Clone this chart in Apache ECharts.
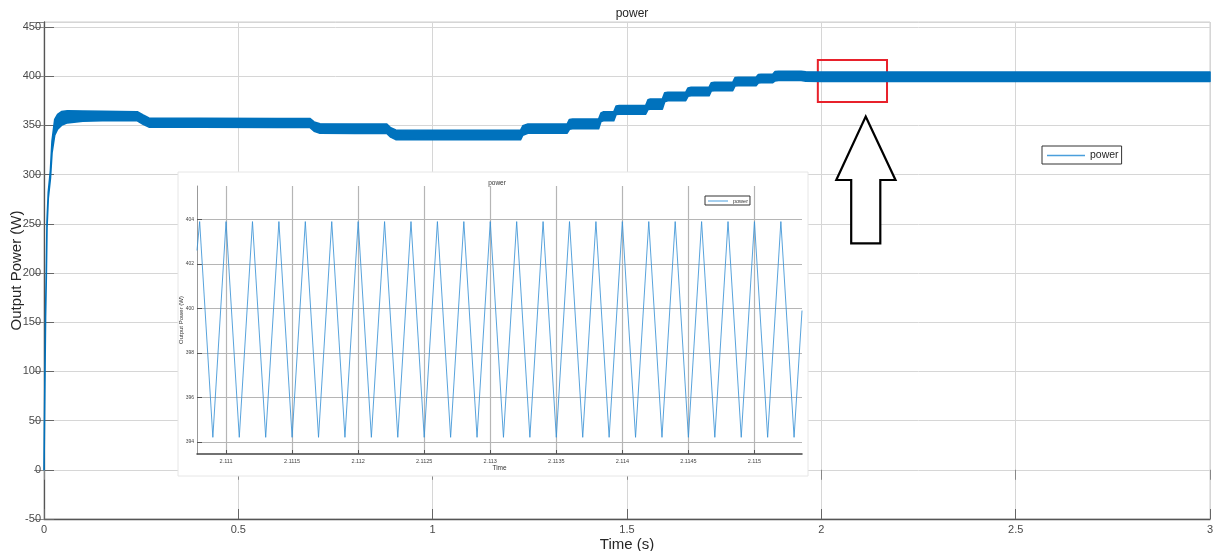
<!DOCTYPE html>
<html>
<head>
<meta charset="utf-8">
<script src="https://cdn.jsdelivr.net/npm/echarts@6/dist/echarts.min.js"></script>
<style>
html,body{margin:0;padding:0;background:#fff;}
#c{width:1217px;height:551px;}
</style>
</head>
<body>
<div id="c"></div>
<script>
// ---- main trace: time (s) and envelope of the oscillating output power (W)
const times = [0, 0.002, 0.004, 0.006, 0.0077, 0.011, 0.0165, 0.0206, 0.0276, 0.035, 0.045, 0.06, 0.1, 0.15, 0.24, 0.255, 0.27, 0.4, 0.6, 0.684, 0.695, 0.71, 0.8, 0.882, 0.892, 0.905, 1.0, 1.1, 1.226, 1.232, 1.245, 1.346, 1.352, 1.36, 1.427, 1.433, 1.44, 1.466, 1.472, 1.48, 1.548, 1.554, 1.56, 1.591, 1.597, 1.605, 1.651, 1.657, 1.665, 1.711, 1.717, 1.725, 1.772, 1.778, 1.786, 1.832, 1.838, 1.845, 1.875, 1.881, 1.89, 1.948, 1.96, 2.0, 2.5, 3.0];
const lower = [0, 78, 155, 198, 246, 276, 296, 322, 340, 346, 350, 352.5, 354.2, 354.6, 354.6, 351, 348.2, 348, 347.8, 347.8, 344, 342, 341.8, 341.8, 338, 335.5, 335.3, 335.3, 335.3, 340, 342, 342, 346, 346.5, 346.5, 354, 354.6, 354.6, 361, 361.4, 361.4, 366, 366.5, 366.5, 374, 375, 375, 379.5, 380, 380, 385, 385.2, 385.2, 390, 390.2, 390.2, 393, 393.3, 393.3, 395.2, 395.5, 395.5, 394.8, 394.6, 394.6, 394.6];
const upper = [0, 80, 160, 202, 252, 282, 304, 334, 356, 361, 364, 364.8, 364.6, 364.3, 363.8, 360.5, 357.5, 357.2, 357, 357, 353.5, 351.5, 351.3, 351.3, 347.5, 345.2, 345, 345, 345, 349.5, 351.3, 351.3, 356, 356.5, 356.5, 362.5, 363.8, 363.8, 369.5, 370, 370, 376, 376.7, 376.7, 383, 383.5, 383.5, 388, 388.6, 388.6, 393.3, 393.7, 393.7, 398.5, 398.8, 398.8, 401.5, 401.8, 401.8, 404.6, 405, 405, 404.4, 404.2, 404.2, 404.2];

// ---- zoomed inset: time (s) and instantaneous power (W)
const insetTimes = [2.11078, 2.1108, 2.1109, 2.1110, 2.1111, 2.1112, 2.1113, 2.1114, 2.1115, 2.1116, 2.1117, 2.1118, 2.1119, 2.1120, 2.1121, 2.1122, 2.1123, 2.1124, 2.1125, 2.1126, 2.1127, 2.1128, 2.1129, 2.1130, 2.1131, 2.1132, 2.1133, 2.1134, 2.1135, 2.1136, 2.1137, 2.1138, 2.1139, 2.1140, 2.1141, 2.1142, 2.1143, 2.1144, 2.1145, 2.1146, 2.1147, 2.1148, 2.1149, 2.1150, 2.1151, 2.1152, 2.1153, 2.11536];
const insetPower = [402.6, 403.9, 394.2, 403.9, 394.2, 403.9, 394.2, 403.9, 394.2, 403.9, 394.2, 403.9, 394.2, 403.9, 394.2, 403.9, 394.2, 403.9, 394.2, 403.9, 394.2, 403.9, 394.2, 403.9, 394.2, 403.9, 394.2, 403.9, 394.2, 403.9, 394.2, 403.9, 394.2, 403.9, 394.2, 403.9, 394.2, 403.9, 394.2, 403.9, 394.2, 403.9, 394.2, 403.9, 394.2, 403.9, 394.2, 399.9];

// ---- tick labels
const mainXTicks = [0, 0.5, 1, 1.5, 2, 2.5, 3];
const mainYTicks = [-50, 0, 50, 100, 150, 200, 250, 300, 350, 400, 450];
const insetXTicks = [2.111, 2.1115, 2.112, 2.1125, 2.113, 2.1135, 2.114, 2.1145, 2.115];
const insetYTicks = [394, 396, 398, 400, 402, 404];

// ---- highlighted region (red box) in data units
const boxT = [1.991, 2.169];
const boxP = [373.7, 416.4];

const FONT = 'Liberation Sans, Arial, Helvetica, sans-serif';
const chart = echarts.init(document.getElementById('c'), null, {renderer: 'canvas'});

const bandData = times.map((t, i) => [t, upper[i], lower[i]]);
const insetData = insetTimes.map((t, i) => [t, insetPower[i]]);

const fmt4 = v => String(parseFloat((+v).toFixed(4)));

function renderBand(params, api) {
  if (params.dataIndex !== 0) return null;
  const top = [], bot = [];
  for (let i = 0; i < times.length; i++) {
    top.push(api.coord([times[i], upper[i]]));
    bot.push(api.coord([times[i], lower[i]]));
  }
  const pts = top.concat(bot.reverse());
  return {
    type: 'polygon',
    shape: {points: pts},
    style: {fill: '#0072BD', stroke: '#0072BD', lineWidth: 1.6, lineJoin: 'round'}
  };
}

chart.setOption({
  animation: false,
  backgroundColor: '#fff',
  textStyle: {fontFamily: FONT},
  title: [
    {text: 'power', left: 627, top: 3, textAlign: 'center',
     textStyle: {fontSize: 12, fontWeight: 'normal', color: '#262626', fontFamily: FONT}},
    {text: 'power', left: 492, top: 175, textAlign: 'center', z: 5,
     textStyle: {fontSize: 6.5, fontWeight: 'normal', color: '#333', fontFamily: FONT}}
  ],
  legend: [
    {data: ['power'], left: 1042, top: 146, orient: 'vertical', z: 6,
     icon: 'rect', itemWidth: 38, itemHeight: 1.3, itemGap: 2,
     borderColor: '#333', borderWidth: 1, backgroundColor: '#fff', padding: [4, 3, 3, 5],
     textStyle: {fontSize: 10.5, color: '#262626', fontFamily: FONT}},
    {data: ['power'], left: 705, top: 196, orient: 'vertical', z: 6,
     icon: 'rect', itemWidth: 20, itemHeight: 1, itemGap: 1,
     borderColor: '#333', borderWidth: 1, backgroundColor: '#fff', padding: [2, 2, 1, 3],
     textStyle: {fontSize: 5.5, color: '#333', fontFamily: FONT}}
  ],
  grid: [
    {left: 44, right: 7, top: 22, bottom: 32, show: true, borderColor: '#cfcfcf', borderWidth: 1,
     outerBoundsMode: 'none', containLabel: false},
    {left: 197, top: 186, width: 605, height: 268, show: false, z: 3,
     outerBoundsMode: 'none', containLabel: false}
  ],
  xAxis: [
    {type: 'value', gridIndex: 0, min: 0, max: 3, interval: 0.5,
     name: 'Time (s)', nameLocation: 'middle', nameGap: 18, nameMoveOverlap: false,
     nameTextStyle: {fontSize: 15, color: '#262626', fontFamily: FONT},
     axisLine: {show: true, onZero: false, lineStyle: {color: '#555', width: 1.3}},
     axisTick: {show: true, inside: true, length: 10, lineStyle: {color: '#666'}},
     axisLabel: {fontSize: 11, color: '#4a4a4a', margin: 5, fontFamily: FONT},
     splitLine: {show: true, lineStyle: {color: '#d6d6d6', width: 1}}},
    {type: 'value', gridIndex: 1, min: insetTimes[0], max: insetTimes[insetTimes.length - 1], z: 3,
     name: 'Time', nameLocation: 'middle', nameGap: 11, nameMoveOverlap: false,
     nameTextStyle: {fontSize: 6.5, color: '#333', fontFamily: FONT},
     axisLine: {show: true, onZero: false, lineStyle: {color: '#444', width: 1.5}},
     axisTick: {show: true, inside: true, length: 4, customValues: insetXTicks, lineStyle: {color: '#555'}},
     axisLabel: {fontSize: 5.5, color: '#444', margin: 4, customValues: insetXTicks, formatter: fmt4},
     splitLine: {show: true, lineStyle: {color: '#b5b5b5', width: 1.2}}},
    {type: 'value', gridIndex: 0, position: 'top', min: 0, max: 3, interval: 0.5,
     axisLine: {show: false}, axisLabel: {show: false}, splitLine: {show: false},
     axisTick: {show: true, inside: true, length: 10, lineStyle: {color: '#888'}}}
  ],
  yAxis: [
    {type: 'value', gridIndex: 0, min: -50, max: 455, interval: 50,
     name: 'Output Power (W)', nameLocation: 'middle', nameGap: 20, nameMoveOverlap: false,
     nameTextStyle: {fontSize: 15, color: '#262626', fontFamily: FONT},
     axisLine: {show: true, onZero: false, lineStyle: {color: '#555', width: 1.3}},
     axisTick: {show: true, inside: true, length: 10, lineStyle: {color: '#666'}},
     axisLabel: {fontSize: 11, color: '#4a4a4a', margin: 3, showMaxLabel: false, fontFamily: FONT},
     splitLine: {show: true, lineStyle: {color: '#d6d6d6', width: 1}}},
    {type: 'value', gridIndex: 1, min: 393.45, max: 405.5, z: 3,
     name: 'Output Power (W)', nameLocation: 'middle', nameGap: 13, nameMoveOverlap: false,
     nameTextStyle: {fontSize: 6, color: '#333', fontFamily: FONT},
     axisLine: {show: true, onZero: false, lineStyle: {color: '#999', width: 1}},
     axisTick: {show: true, inside: true, length: 5, customValues: insetYTicks, lineStyle: {color: '#555'}},
     axisLabel: {fontSize: 5, color: '#444', margin: 3, customValues: insetYTicks},
     splitLine: {show: true, lineStyle: {color: '#b5b5b5', width: 1.2}}},
    {type: 'value', gridIndex: 0, position: 'right', min: -50, max: 455, interval: 50,
     axisLine: {show: false}, axisLabel: {show: false}, splitLine: {show: false},
     axisTick: {show: true, inside: true, length: 10, lineStyle: {color: '#888'}}}
  ],
  graphic: [
    {type: 'rect', z: 1, shape: {x: 178, y: 172, width: 630, height: 304},
     style: {fill: '#fff', stroke: '#e6e6e6', lineWidth: 1}},
    {type: 'polygon', z: 10,
     shape: {points: [[865.7, 116.5], [895.5, 180], [880.3, 180], [880.3, 243.3], [851.2, 243.3], [851.2, 180], [836.3, 180]]},
     style: {fill: '#fff', stroke: '#000', lineWidth: 2.2}}
  ],
  series: [
    {name: 'power', type: 'line', xAxisIndex: 1, yAxisIndex: 1, z: 4,
     data: insetData, symbol: 'none', color: '#4a9fdc',
     lineStyle: {color: '#3b93d6', width: 1, opacity: 0.85}},
    {name: 'band', type: 'custom', xAxisIndex: 0, yAxisIndex: 0, z: 2,
     data: bandData, encode: {x: 0, y: [1, 2]}, renderItem: renderBand, color: '#0072BD'},
    {name: 'box', type: 'line', xAxisIndex: 0, yAxisIndex: 0, z: 5, data: [], symbol: 'none',
     markArea: {silent: true, itemStyle: {color: 'rgba(0,0,0,0)', borderColor: '#e8212b', borderWidth: 2},
       data: [[{xAxis: boxT[0], yAxis: boxP[1]}, {xAxis: boxT[1], yAxis: boxP[0]}]]}}
  ]
});
</script>
</body>
</html>
